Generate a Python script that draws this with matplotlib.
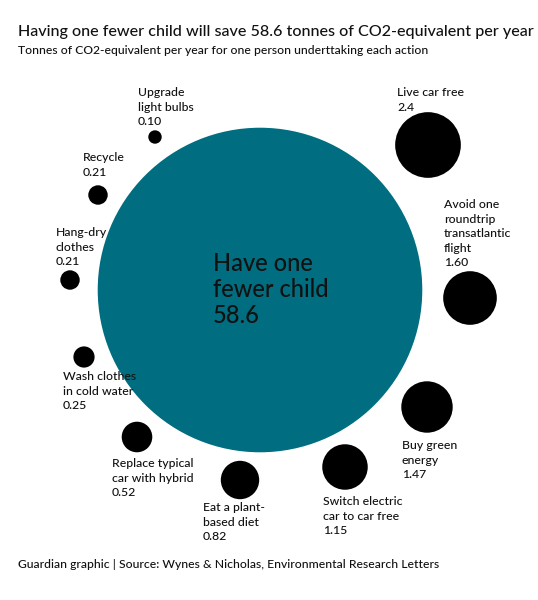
import numpy as np
import matplotlib.pyplot as plt
from matplotlib.patches import Circle

plt.rcParams["font.family"] = ["Lato", "DejaVu Sans"]

ACTIONS = ["Upgrade\nlight bulbs", "Recycle", "Hang-dry\nclothes", "Wash clothes\nin cold water",
           "Replace typical\ncar with hybrid", "Eat a plant-\nbased diet", "Switch electric\ncar to car free",
           "Buy green\nenergy", "Avoid one\nroundtrip\ntransatlantic\nflight", "Live car free"]
VALUES = [0.10, 0.21, 0.21, 0.25, 0.52, 0.82, 1.15, 1.47, 1.60, 2.4]
BIG_LABEL = "Have one\nfewer child"
BIG_VALUE = 58.6

# layout (pixel space): circle centres and label anchors
CENTRES = [(155, 137), (98, 195), (70, 280), (84, 357), (137, 437), (240, 480),
           (345, 467), (427, 407), (470, 298), (428, 145)]
LABEL_POS = [(138, 87), (83, 152), (56, 227), (63, 371), (112, 458), (203, 502),
             (323, 496), (402, 440), (444, 199), (397, 87)]
BIG_CENTRE = (260, 290)
SCALE = 21.2  # px radius per sqrt(tonne)

fig = plt.figure(figsize=(5.38, 6.0), dpi=100)
ax = fig.add_axes([0, 0, 1, 1])
ax.set_xlim(0, 538)
ax.set_ylim(600, 0)
ax.set_aspect("equal")
ax.axis("off")

ax.add_patch(Circle(BIG_CENTRE, SCALE * np.sqrt(BIG_VALUE), color="#006e80", lw=0))
ax.text(213, 252, f"{BIG_LABEL}\n{BIG_VALUE}", fontsize=17, va="top", ha="left",
        linespacing=1.15, color="#111", weight="medium")

for name, v, c, lp in zip(ACTIONS, VALUES, CENTRES, LABEL_POS):
    ax.add_patch(Circle(c, SCALE * np.sqrt(v), color="black", lw=0))
    val = f"{v:.1f}" if v == 2.4 else f"{v:.2f}"
    ax.text(lp[0], lp[1], f"{name}\n{val}", fontsize=8.8, va="top", ha="left",
            linespacing=1.4, color="#111", weight="medium")

ax.text(18, 32, "Having one fewer child will save 58.6 tonnes of CO2-equivalent per year",
        fontsize=11.6, va="center", ha="left", color="#111", weight="medium")
ax.text(18, 50, "Tonnes of CO2-equivalent per year for one person underttaking each action",
        fontsize=8.7, va="center", ha="left", color="#111", weight="medium")
ax.text(18, 564, "Guardian graphic | Source: Wynes & Nicholas, Environmental Research Letters",
        fontsize=8.7, va="center", ha="left", color="#111", weight="medium")

fig.savefig("out.png", dpi=100, facecolor="white")
